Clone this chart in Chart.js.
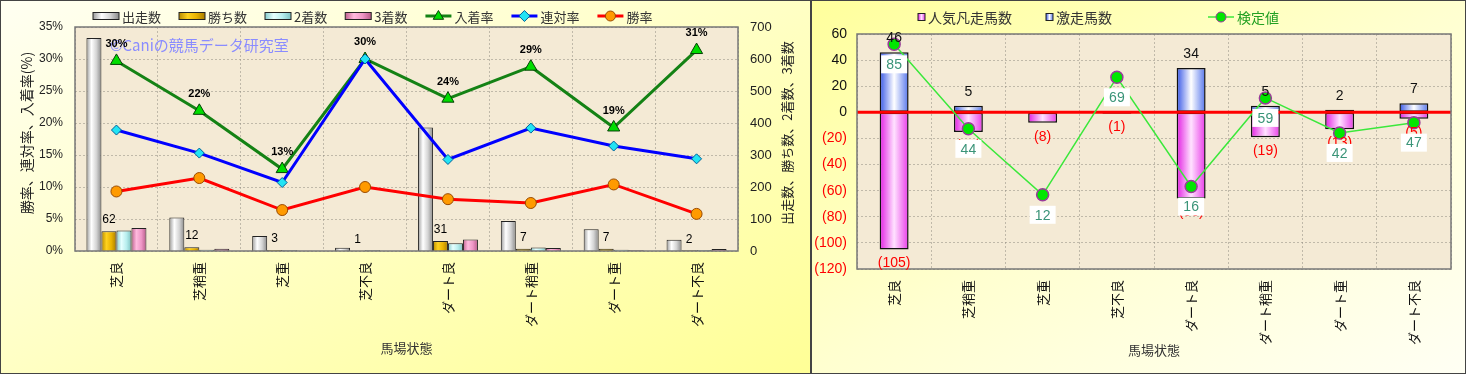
<!DOCTYPE html>
<html>
<head>
<meta charset="utf-8">
<script src="https://cdn.jsdelivr.net/npm/chart.js@4/dist/chart.umd.min.js"></script>
<style>
body { margin: 0; width: 1466px; height: 374px; overflow: hidden; background: #fff; }
.panel { position: absolute; top: 0; height: 374px; box-shadow: inset 0 0 0 1px #444; }
#p1 { left: 0; width: 811px; background: linear-gradient(to bottom right, #fffff2, #ffffc4 50%, #ffff96); }
#p2 { left: 811px; width: 655px; background: linear-gradient(to bottom right, #ffff9c, #ffffd0 50%, #fffff4); }
canvas { position: absolute; left: 0; top: 0; }
</style>
</head>
<body>
<div class="panel" id="p1"><canvas id="c1" width="811" height="374"></canvas></div>
<div class="panel" id="p2"><canvas id="c2" width="655" height="374"></canvas></div>
<script>
// categories (track condition)
const categories = ['芝良', '芝稍重', '芝重', '芝不良', 'ダート良', 'ダート稍重', 'ダート重', 'ダート不良'];

// left chart: counts (right axis)
const runners = [666, 105, 47, 10, 386, 94, 68, 35];
const wins = [62, 12, 3, 1, 31, 7, 7, 2];
const seconds = [64, 4, 2, 2, 24, 11, 4, 3];
const thirds = [72, 7, 1, 0, 36, 9, 2, 6];

// left chart: rates in % (left axis)
const placeRate = [29.7, 21.9, 12.8, 30.0, 23.8, 28.8, 19.3, 31.4];
const quinellaRate = [18.9, 15.3, 10.7, 30.0, 14.3, 19.2, 16.4, 14.4];
const winRate = [9.3, 11.4, 6.4, 10.0, 8.1, 7.5, 10.4, 5.8];

// right chart
const flopCounts = [-105, -15, -8, -1, -66, -19, -13, -5];   // 人気凡走馬数
const upsetCounts = [46, 5, 0, 0, 34, 5, 2, 7];              // 激走馬数
const testValues = [85, 44, 12, 69, 16, 59, 42, 47];         // 検定値

const JP = '"Noto Sans CJK JP", sans-serif';
Chart.defaults.font.family = '"Liberation Sans", "Noto Sans CJK JP", sans-serif';
Chart.defaults.color = '#111';

const gridColor = 'rgba(140,135,125,0.5)';
const plotBg = '#f4ead5';

function hGradient(ctx, x0, x1, stops) {
  const g = ctx.createLinearGradient(x0, 0, x1, 0);
  stops.forEach((c, i) => g.addColorStop(i / (stops.length - 1), c));
  return g;
}

function marker(ctx, style, x, y, r) {
  ctx.beginPath();
  if (style === 'triangle') {
    ctx.moveTo(x, y - r);
    ctx.lineTo(x + r * 0.95, y + r * 0.6);
    ctx.lineTo(x - r * 0.95, y + r * 0.6);
    ctx.closePath();
  } else if (style === 'rectRot') {
    ctx.moveTo(x, y - r); ctx.lineTo(x + r, y); ctx.lineTo(x, y + r); ctx.lineTo(x - r, y);
    ctx.closePath();
  } else {
    ctx.arc(x, y, r, 0, Math.PI * 2);
  }
  ctx.fill();
  ctx.stroke();
}

// gives each bar its own horizontal gradient
const gradientBars = {
  id: 'gradientBars',
  afterDatasetsUpdate(chart) {
    chart.data.datasets.forEach((ds, i) => {
      if (!ds.shade) return;
      chart.getDatasetMeta(i).data.forEach(bar => {
        const g = hGradient(chart.ctx, bar.x - bar.width / 2, bar.x + bar.width / 2, ds.shade);
        bar.options = Object.assign({}, bar.options, { backgroundColor: g });
      });
    });
  }
};

// plot area background + frame
const plotFrame = {
  id: 'plotFrame',
  beforeDraw(chart) {
    const a = chart.chartArea, ctx = chart.ctx;
    ctx.save();
    ctx.fillStyle = plotBg;
    ctx.fillRect(a.left, a.top, a.right - a.left, a.bottom - a.top);
    ctx.restore();
  },
  afterDraw(chart) {
    const a = chart.chartArea, ctx = chart.ctx;
    ctx.save();
    ctx.strokeStyle = '#777';
    ctx.lineWidth = 1.5;
    ctx.strokeRect(a.left, a.top, a.right - a.left, a.bottom - a.top);
    ctx.restore();
  }
};

function drawLegend(chart, o) {
  const ctx = chart.ctx;
  ctx.save();
  ctx.font = o.font;
  ctx.textBaseline = 'middle';
  ctx.textAlign = 'left';
  let x = o.x;
  chart.data.datasets.forEach((ds, k) => {
    if (o.xs) x = o.xs[k];
    const y = o.y;
    let w;
    if (ds.type === 'line') {
      w = 26;
      ctx.strokeStyle = ds.borderColor;
      ctx.lineWidth = ds.borderWidth;
      ctx.beginPath(); ctx.moveTo(x, y); ctx.lineTo(x + w, y); ctx.stroke();
      ctx.fillStyle = ds.pointBackgroundColor;
      ctx.strokeStyle = ds.pointBorderColor;
      ctx.lineWidth = 1;
      marker(ctx, ds.pointStyle, x + w / 2, y, ds.pointStyle === 'circle' ? 5 : 5.5);
    } else {
      w = o.boxW;
      ctx.fillStyle = hGradient(ctx, x, x + w, ds.shade);
      ctx.fillRect(x, y - o.boxH / 2, w, o.boxH);
      ctx.strokeStyle = '#222';
      ctx.lineWidth = 1;
      ctx.strokeRect(x, y - o.boxH / 2, w, o.boxH);
    }
    ctx.fillStyle = ds.legendColor || '#333';
    ctx.fillText(ds.label, x + w + 3, y + 1);
    x += w + 3 + ctx.measureText(ds.label).width + o.gap;
  });
  ctx.restore();
}

function vText(ctx, text, x, y, font, color) {
  ctx.save();
  ctx.translate(x, y);
  ctx.rotate(-Math.PI / 2);
  ctx.font = font;
  ctx.fillStyle = color;
  ctx.textAlign = 'center';
  ctx.textBaseline = 'middle';
  ctx.fillText(text, 0, 0);
  ctx.restore();
}

// ---------------- left chart ----------------
const leftDecor = {
  id: 'leftDecor',
  beforeDatasetsDraw(chart) {
    const ctx = chart.ctx;
    ctx.save();
    ctx.font = '15px ' + JP;
    ctx.fillStyle = '#8a8cff';
    ctx.textBaseline = 'middle';
    ctx.fillText('©Caniの競馬データ研究室', 110, 45);
    ctx.restore();
  },
  afterDraw(chart) {
    const ctx = chart.ctx;
    drawLegend(chart, { x: 93, y: 16, font: '13px ' + JP, boxW: 26, boxH: 7, gap: 18 });
    vText(ctx, '勝率、連対率、入着率(%)', 27, 133, '14px ' + JP, '#222');
    vText(ctx, '出走数、勝ち数、2着数、3着数', 787, 133, '13px ' + JP, '#222');

    ctx.save();
    ctx.textAlign = 'center';
    ctx.textBaseline = 'middle';
    ctx.fillStyle = '#000';
    ctx.font = 'bold 11px "Liberation Sans"';
    chart.getDatasetMeta(4).data.forEach((pt, i) => {
      ctx.fillText(Math.round(placeRate[i]) + '%', pt.x, pt.y - 17);
    });
    ctx.font = '12px "Liberation Sans"';
    chart.getDatasetMeta(1).data.forEach((bar, i) => {
      ctx.fillText(wins[i], bar.x, bar.y - 11);
    });
    ctx.restore();
  }
};

new Chart(document.getElementById('c1'), {
  type: 'bar',
  data: {
    labels: categories,
    datasets: [
      { label: '出走数', data: runners, yAxisID: 'y1', order: 2,
        shade: ['#9a9a9a', '#ffffff', '#d4d4d4', '#8a8a8a'], borderColor: '#222', borderWidth: 1 },
      { label: '勝ち数', data: wins, yAxisID: 'y1', order: 2,
        shade: ['#b88a00', '#ffd21e', '#e8b200', '#a87c00'], borderColor: '#222', borderWidth: 1 },
      { label: '2着数', data: seconds, yAxisID: 'y1', order: 2,
        shade: ['#86cccc', '#e6ffff', '#b8eeee', '#7cc2c2'], borderColor: '#222', borderWidth: 1 },
      { label: '3着数', data: thirds, yAxisID: 'y1', order: 2,
        shade: ['#c0608f', '#ffbade', '#ee96c6', '#b65a88'], borderColor: '#222', borderWidth: 1 },
      { type: 'line', label: '入着率', data: placeRate, yAxisID: 'y', order: 1,
        borderColor: '#148214', borderWidth: 3, pointStyle: 'triangle', pointRadius: 7,
        pointBackgroundColor: '#00dd00', pointBorderColor: '#064006', pointBorderWidth: 1 },
      { type: 'line', label: '連対率', data: quinellaRate, yAxisID: 'y', order: 0.5,
        borderColor: '#0000ff', borderWidth: 3, pointStyle: 'rectRot', pointRadius: 5,
        pointBackgroundColor: '#22e4f4', pointBorderColor: '#00609a', pointBorderWidth: 1 },
      { type: 'line', label: '勝率', data: winRate, yAxisID: 'y', order: 0.2,
        borderColor: '#ff0000', borderWidth: 3, pointStyle: 'circle', pointRadius: 5.5,
        pointBackgroundColor: '#ff9a00', pointBorderColor: '#9a4a00', pointBorderWidth: 1 }
    ]
  },
  options: {
    responsive: false,
    animation: false,
    layout: { padding: { top: 27, left: 0, right: 0, bottom: 0 } },
    datasets: { bar: { categoryPercentage: 0.724, barPercentage: 1 } },
    plugins: { legend: { display: false }, tooltip: { enabled: false } },
    scales: {
      x: {
        grid: { offset: true, color: gridColor, drawTicks: false },
        border: { display: false, dash: [2, 2] },
        ticks: { minRotation: 90, maxRotation: 90, padding: 11, font: { size: 13, family: JP }, color: '#111' },
        title: { display: true, text: '馬場状態', color: '#333', font: { size: 13, family: JP },
                 padding: { top: 0, bottom: 18 } },
        afterFit(s) { s.height = 123; }
      },
      y: {
        position: 'left', min: 0, max: 35,
        ticks: { stepSize: 5, padding: 12, font: { size: 12 }, color: '#222', callback: v => v + '%' },
        grid: { color: gridColor, drawTicks: false },
        border: { display: false, dash: [2, 2] },
        afterFit(s) { s.width = 75; }
      },
      y1: {
        position: 'right', min: 0, max: 700,
        ticks: { stepSize: 100, padding: 12, font: { size: 13 }, color: '#222' },
        grid: { display: false, drawTicks: false },
        border: { display: false },
        afterFit(s) { s.width = 73; }
      }
    }
  },
  plugins: [gradientBars, plotFrame, leftDecor]
});

// ---------------- right chart ----------------
const rightDecor = {
  id: 'rightDecor',
  beforeDatasetDraw(chart, args) {
    if (args.index !== 2) return;
    // red zero line, over the bars but under the test-value line
    const a = chart.chartArea, ctx = chart.ctx;
    const y0 = chart.scales.y.getPixelForValue(0);
    ctx.save();
    ctx.strokeStyle = '#ff0000';
    ctx.lineWidth = 3;
    ctx.beginPath(); ctx.moveTo(a.left, y0); ctx.lineTo(a.right, y0); ctx.stroke();
    ctx.restore();
  },
  afterDraw(chart) {
    const ctx = chart.ctx;
    drawLegend(chart, { xs: [107, 235, 397], y: 17, font: '14px ' + JP, boxW: 7, boxH: 7, gap: 0 });

    ctx.save();
    ctx.textAlign = 'center';
    ctx.textBaseline = 'middle';
    ctx.font = '14px "Liberation Sans"';
    chart.getDatasetMeta(0).data.forEach((bar, i) => {
      if (flopCounts[i] >= 0) return;
      ctx.fillStyle = '#ff0000';
      ctx.fillText('(' + (-flopCounts[i]) + ')', bar.x, bar.y + 14);
    });
    chart.getDatasetMeta(1).data.forEach((bar, i) => {
      if (upsetCounts[i] <= 0) return;
      ctx.fillStyle = '#111';
      ctx.fillText(upsetCounts[i], bar.x, bar.y - 14);
    });
    chart.getDatasetMeta(2).data.forEach((pt, i) => {
      const cy = pt.y + 20;
      ctx.fillStyle = '#ffffff';
      ctx.fillRect(pt.x - 13, cy - 9, 26, 18);
      ctx.fillStyle = '#3a9478';
      ctx.fillText(testValues[i], pt.x, cy + 1);
    });
    ctx.restore();
  }
};

new Chart(document.getElementById('c2'), {
  type: 'bar',
  data: {
    labels: categories,
    datasets: [
      { label: '人気凡走馬数', data: flopCounts, order: 2,
        shade: ['#e21ee2', '#ffe2ff', '#e83ce8'], borderColor: '#111', borderWidth: 1.5, borderSkipped: false },
      { label: '激走馬数', data: upsetCounts, order: 2,
        shade: ['#3656e6', '#ffffff', '#5676ec'], borderColor: '#111', borderWidth: 1.5, borderSkipped: false },
      { type: 'line', label: '検定値', data: testValues, yAxisID: 'y2', order: 1,
        legendColor: '#22a022',
        borderColor: '#3be83b', borderWidth: 1.5, pointStyle: 'circle', pointRadius: 6,
        pointBackgroundColor: '#00e600', pointBorderColor: '#9a3a9a', pointBorderWidth: 1.5 }
    ]
  },
  options: {
    responsive: false,
    animation: false,
    layout: { padding: { top: 34, left: 0, right: 15, bottom: 0 } },
    datasets: { bar: { categoryPercentage: 0.39, barPercentage: 1, grouped: false } },
    plugins: { legend: { display: false }, tooltip: { enabled: false } },
    scales: {
      x: {
        grid: { offset: true, color: gridColor, drawTicks: false },
        border: { display: false, dash: [2, 2] },
        ticks: { minRotation: 90, maxRotation: 90, padding: 11, font: { size: 13, family: JP }, color: '#111' },
        title: { display: true, text: '馬場状態', color: '#333', font: { size: 13, family: JP },
                 padding: { top: 0, bottom: 16 } },
        afterFit(s) { s.height = 105; }
      },
      y: {
        position: 'left', min: -120, max: 60,
        ticks: {
          stepSize: 20, padding: 10, font: { size: 14 },
          color: c => (c.tick && c.tick.value < 0 ? '#ff0000' : '#111'),
          callback: v => (v < 0 ? '(' + (-v) + ')' : String(v))
        },
        grid: { color: gridColor, drawTicks: false },
        border: { display: false, dash: [2, 2] },
        afterFit(s) { s.width = 46; }
      },
      y2: { display: false, min: -24, max: 90 }
    }
  },
  plugins: [gradientBars, plotFrame, rightDecor]
});
</script>
</body>
</html>
